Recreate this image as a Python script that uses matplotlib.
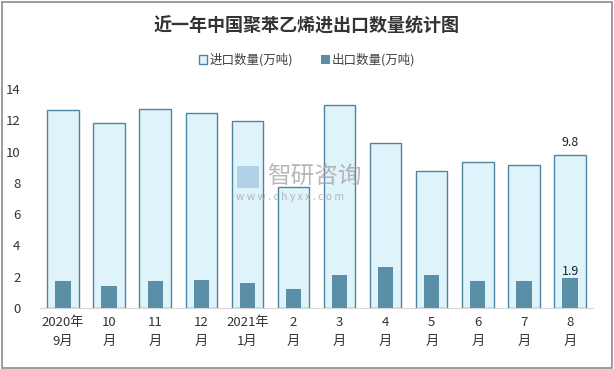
import numpy as np
import matplotlib.pyplot as plt
from matplotlib.patches import Rectangle

plt.rcParams['font.family'] = ['Noto Sans CJK SC', 'DejaVu Sans']

# data
months = ["2020年\n9月", "10\n月", "11\n月", "12\n月", "2021年\n1月", "2\n月",
          "3\n月", "4\n月", "5\n月", "6\n月", "7\n月", "8\n月"]
imports = [12.65, 11.82, 12.72, 12.46, 11.95, 7.73, 12.97, 10.54, 8.75, 9.33, 9.14, 9.8]
exports = [1.74, 1.42, 1.74, 1.81, 1.62, 1.23, 2.13, 2.64, 2.13, 1.74, 1.74, 1.9]

fig = plt.figure(figsize=(6.14, 3.69), dpi=100)
ax = fig.add_axes([0.065, 0.165, 0.901, 0.594])
x = np.arange(len(months))

ax.bar(x, imports, width=0.68, color="#dff3fa", edgecolor="#4f84a0", linewidth=1.0,
       label="进口数量(万吨)", zorder=2)
ax.bar(x, exports, width=0.33, color="#5b8fa8", label="出口数量(万吨)", zorder=3)

# labels on the last month only
ax.text(x[-1], imports[-1] + 0.35, "9.8", ha="center", va="bottom", fontsize=9, color="#222222")
ax.text(x[-1], exports[-1] + 0.05, "1.9", ha="center", va="bottom", fontsize=9, color="#222222")

ax.set_xlim(-0.5, len(months) - 0.5)
ax.set_ylim(0, 14)
ax.set_yticks(range(0, 15, 2))
ax.set_xticks(x)
ax.set_xticklabels(months, fontsize=9.5, color="#333333", linespacing=1.5)
ax.tick_params(axis="y", labelsize=9.5, colors="#333333", length=0, pad=14)
ax.tick_params(axis="x", length=0, pad=6)
for s in ["top", "right", "left"]:
    ax.spines[s].set_visible(False)
ax.spines["bottom"].set_color("#d9d9d9")

leg = fig.legend(loc="center", bbox_to_anchor=(0.5, 0.838), ncol=2, frameon=False,
                 fontsize=9, handlelength=0.7, handleheight=0.7, handletextpad=0.2,
                 columnspacing=2.2)
for t in leg.get_texts():
    t.set_color("#404040")

fig.text(0.5, 0.93, "近一年中国聚苯乙烯进出口数量统计图", ha="center", va="center",
         fontsize=13, fontweight="bold", color="#333333")

# watermark
fig.text(0.435, 0.52, "智研咨询", fontsize=17, color="#a6a6a6", alpha=0.8, va="center")
fig.text(0.385, 0.465, "w w w . c h y x x . c o m", fontsize=7.5, color="#a6a6a6", alpha=0.8, va="center")
fig.patches.append(Rectangle((0.386, 0.49), 0.036, 0.06, transform=fig.transFigure,
                             facecolor="#9fc3e0", alpha=0.7, edgecolor="none"))

# outer border
fig.patches.append(Rectangle((0.004, 0.004), 0.992, 0.99, transform=fig.transFigure,
                             fill=False, edgecolor="#8c8c8c", linewidth=1.2))

fig.savefig("out.png", dpi=100)
